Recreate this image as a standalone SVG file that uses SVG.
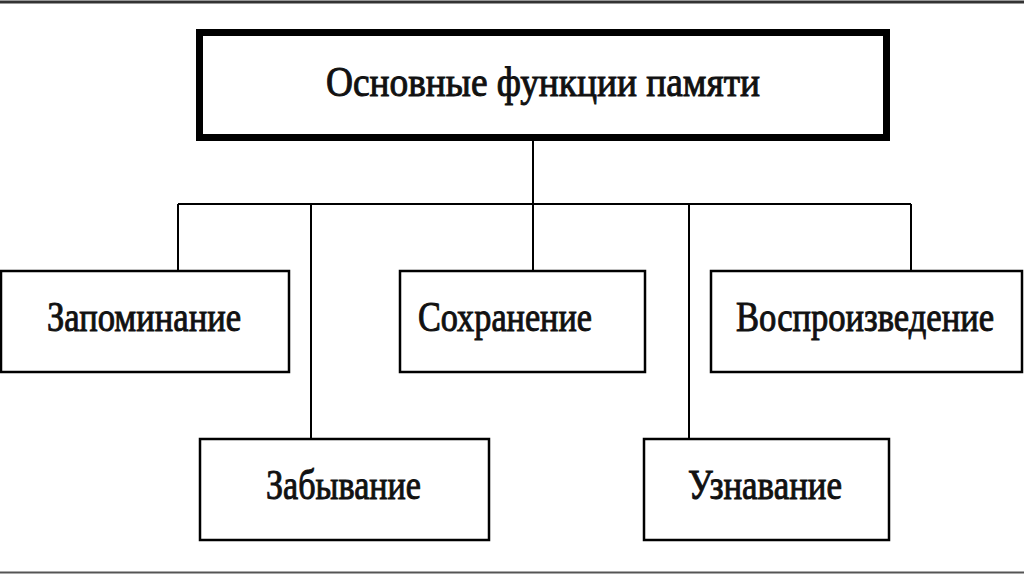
<svg xmlns="http://www.w3.org/2000/svg" width="1024" height="574" viewBox="0 0 1024 574">
<style>
.b{fill:#fff;stroke:#000;stroke-width:2.5}
.t{font-family:"Liberation Serif",serif;font-size:42px;fill:#111;stroke:#111;stroke-width:1}
.c{fill:none;stroke:#000;stroke-width:2}
</style>
<rect width="1024" height="574" fill="#fff"/>
<line x1="0" y1="2" x2="1024" y2="2" stroke="#333" stroke-width="3"/>
<line x1="0" y1="572.5" x2="1024" y2="572.5" stroke="#555" stroke-width="2"/>
<g id="connectors">
<path class="c" d="M533 141V270M178 204H911M178 204V270M311 204V438M689 204V438M911 204V270"/>
</g>
<g id="root"><rect x="199.5" y="32.5" width="687" height="105" fill="#fff" stroke="#000" stroke-width="7"/><text class="t" x="326" y="96" textLength="434" lengthAdjust="spacingAndGlyphs">Основные функции памяти</text></g>
<g id="n1"><rect class="b" x="1" y="271" width="288" height="101"/><text class="t" x="47" y="331" textLength="194" lengthAdjust="spacingAndGlyphs">Запоминание</text></g>
<g id="n2"><rect class="b" x="400" y="271" width="245" height="101"/><text class="t" x="418" y="331" textLength="174" lengthAdjust="spacingAndGlyphs">Сохранение</text></g>
<g id="n3"><rect class="b" x="711" y="271" width="311" height="101"/><text class="t" x="736" y="331" textLength="258" lengthAdjust="spacingAndGlyphs">Воспроизведение</text></g>
<g id="n4"><rect class="b" x="200" y="439" width="289" height="101"/><text class="t" x="266" y="499" textLength="155" lengthAdjust="spacingAndGlyphs">Забывание</text></g>
<g id="n5"><rect class="b" x="644" y="439" width="245" height="101"/><text class="t" x="688" y="499" textLength="154" lengthAdjust="spacingAndGlyphs">Узнавание</text></g>
</svg>
